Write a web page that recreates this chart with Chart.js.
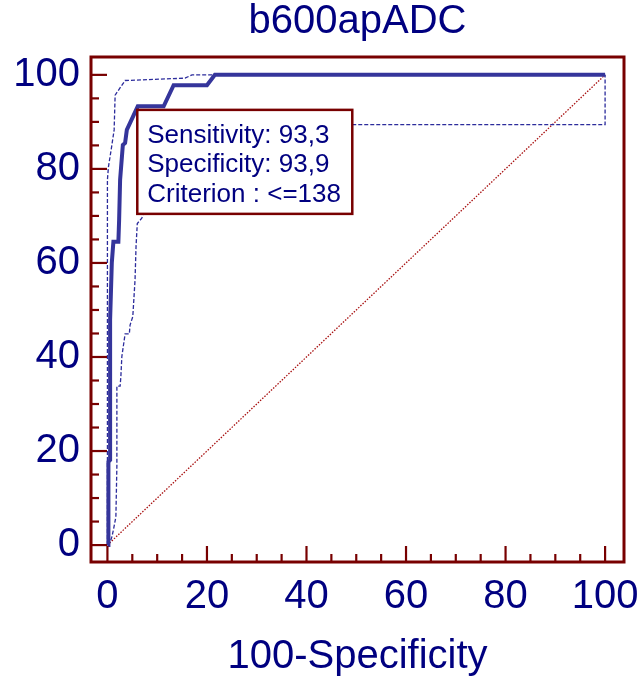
<!DOCTYPE html>
<html>
<head>
<meta charset="utf-8">
<script src="https://cdn.jsdelivr.net/npm/chart.js@4/dist/chart.umd.min.js"></script>
<style>
  html, body { margin: 0; padding: 0; background: #ffffff; }
  canvas { display: block; }
</style>
</head>
<body>
<canvas id="roc" width="643" height="678"></canvas>
<script>
// ROC curve for b600apADC (100-Specificity vs Sensitivity)
const rocX = [0, 0.2, 0.2, 0.54, 0.54, 0.88, 1.2, 2.2, 2.35, 2.55, 3.1, 3.55, 3.9, 6.1, 11.3, 13.3, 20.0, 21.6, 100];
const rocY = [0, 0, 17.7, 18.1, 47.9, 60.0, 64.5, 64.5, 69.1, 77.7, 85.1, 85.5, 88.3, 93.3, 93.3, 97.8, 97.8, 100, 100];

// 95% confidence bounds
const ciUpperX = [0, 0, 0.2, 0.74, 1.35, 1.55, 3.55, 15.6, 17.0, 100];
const ciUpperY = [0, 77.7, 80.4, 84.0, 88.3, 95.7, 98.8, 99.3, 100, 100];
const ciLowerX = [0, 0.54, 0.88, 1.2, 1.7, 1.9, 1.9, 2.55, 2.7, 2.9, 3.55, 4.4, 4.55, 5.1, 5.55, 5.75, 6.0, 6.9, 9.0, 12.0, 16.0, 20.0, 100, 100];
const ciLowerY = [0, 0.6, 1.7, 3.2, 6.0, 16.8, 33.8, 33.8, 35.8, 40.1, 44.9, 44.9, 46.8, 48.6, 56.4, 63.5, 68.4, 69.5, 75, 81, 86, 89.4, 89.4, 100];

// Reference (chance) diagonal
const diagX = [0, 100];
const diagY = [0, 100];

// Optimal criterion
const critSensitivity = 93.3;
const critSpecificity = 93.9;
const critLabel = '<=138';

// Axis ticks
const xTickLabels = [0, 20, 40, 60, 80, 100];
const yTickLabels = [0, 20, 40, 60, 80, 100];
const minorTicks = [5, 10, 15, 25, 30, 35, 45, 50, 55, 65, 70, 75, 85, 90, 95];

const NAVY = '#000080';
const MAROON = '#780000';
const CURVE = '#35359b';
const FONT = "'Liberation Sans', Arial, sans-serif";

const pts = (xs, ys) => xs.map((x, i) => ({ x: x, y: ys[i] }));
const fmt = v => v.toFixed(1).replace('.', ',');

// Frame, inward tick marks and the criterion box
const framePlugin = {
  id: 'frame',
  afterDatasetsDraw(chart) {
    const { ctx, scales: { x, y } } = chart;

    // criterion box anchored at the optimal point
    const cx = x.getPixelForValue(100 - critSpecificity);
    const cy = y.getPixelForValue(critSensitivity);
    const bx = cx - 0.5, by = cy + 3.5, bw = 215, bh = 104;
    ctx.save();
    ctx.fillStyle = '#ffffff';
    ctx.fillRect(bx, by, bw, bh);
    ctx.strokeStyle = MAROON;
    ctx.lineWidth = 2.5;
    ctx.strokeRect(bx, by, bw, bh);
    ctx.fillStyle = NAVY;
    ctx.font = '26px ' + FONT;
    ctx.textBaseline = 'alphabetic';
    ctx.textAlign = 'left';
    ctx.fillText('Sensitivity: ' + fmt(critSensitivity), bx + 10, by + 33);
    ctx.fillText('Specificity: ' + fmt(critSpecificity), bx + 10, by + 62.5);
    ctx.fillText('Criterion : ' + critLabel, bx + 10, by + 92);
    ctx.restore();
  },
  afterDraw(chart) {
    const { ctx, chartArea: a, scales: { x, y } } = chart;
    ctx.save();
    ctx.strokeStyle = MAROON;
    ctx.lineWidth = 2.2;
    ctx.lineCap = 'butt';
    const tick = (v, len) => {
      const px = x.getPixelForValue(v);
      ctx.beginPath();
      ctx.moveTo(px, a.bottom);
      ctx.lineTo(px, a.bottom - len);
      ctx.stroke();
      const py = y.getPixelForValue(v);
      ctx.beginPath();
      ctx.moveTo(a.left, py);
      ctx.lineTo(a.left + len, py);
      ctx.stroke();
    };
    xTickLabels.forEach(v => tick(v, 16));
    minorTicks.forEach(v => tick(v, 8));
    ctx.lineWidth = 3;
    ctx.strokeRect(a.left, a.top, a.right - a.left, a.bottom - a.top);
    ctx.restore();
  }
};

new Chart(document.getElementById('roc'), {
  type: 'scatter',
  data: {
    datasets: [
      {
        data: pts(rocX, rocY),
        showLine: true,
        borderColor: CURVE,
        borderWidth: 4,
        pointRadius: 0,
        tension: 0
      },
      {
        data: pts(ciUpperX, ciUpperY),
        showLine: true,
        borderColor: '#2c2c9c',
        borderWidth: 1.3,
        borderDash: [4, 2],
        pointRadius: 0,
        tension: 0
      },
      {
        data: pts(ciLowerX, ciLowerY),
        showLine: true,
        borderColor: '#2c2c9c',
        borderWidth: 1.3,
        borderDash: [4, 2],
        pointRadius: 0,
        tension: 0
      },
      {
        data: pts(diagX, diagY),
        showLine: true,
        borderColor: '#a81010',
        borderWidth: 1.3,
        borderDash: [1.5, 1.5],
        pointRadius: 0,
        tension: 0
      }
    ]
  },
  options: {
    responsive: false,
    animation: false,
    devicePixelRatio: 1,
    layout: { padding: { left: 0, right: 19, top: 0, bottom: 0 } },
    plugins: {
      legend: { display: false },
      tooltip: { enabled: false },
      title: {
        display: true,
        text: 'b600apADC',
        color: NAVY,
        fullSize: false,
        font: { family: FONT, size: 40, weight: 'normal', lineHeight: 1.1 },
        padding: { top: 0, bottom: 13 }
      }
    },
    scales: {
      x: {
        type: 'linear',
        position: 'bottom',
        min: -3.3,
        max: 103.8,
        grid: { display: false, drawTicks: false },
        border: { display: false },
        afterBuildTicks: s => { s.ticks = xTickLabels.map(v => ({ value: v })); },
        afterFit: s => { s.height = 116; s.paddingLeft = 0; s.paddingRight = 0; },
        ticks: {
          color: NAVY,
          padding: 11,
          maxRotation: 0,
          autoSkip: false,
          font: { family: FONT, size: 40 }
        },
        title: {
          display: true,
          text: '100-Specificity',
          color: NAVY,
          font: { family: FONT, size: 40, lineHeight: 1 },
          padding: { top: 0, bottom: 1 }
        }
      },
      y: {
        type: 'linear',
        min: -3.6,
        max: 103.8,
        grid: { display: false, drawTicks: false },
        border: { display: false },
        afterBuildTicks: s => { s.ticks = yTickLabels.map(v => ({ value: v })); },
        afterFit: s => { s.width = 91; s.paddingTop = 0; s.paddingBottom = 0; },
        ticks: {
          color: NAVY,
          padding: 11,
          autoSkip: false,
          font: { family: FONT, size: 40 }
        }
      }
    }
  },
  plugins: [framePlugin]
});
</script>
</body>
</html>
